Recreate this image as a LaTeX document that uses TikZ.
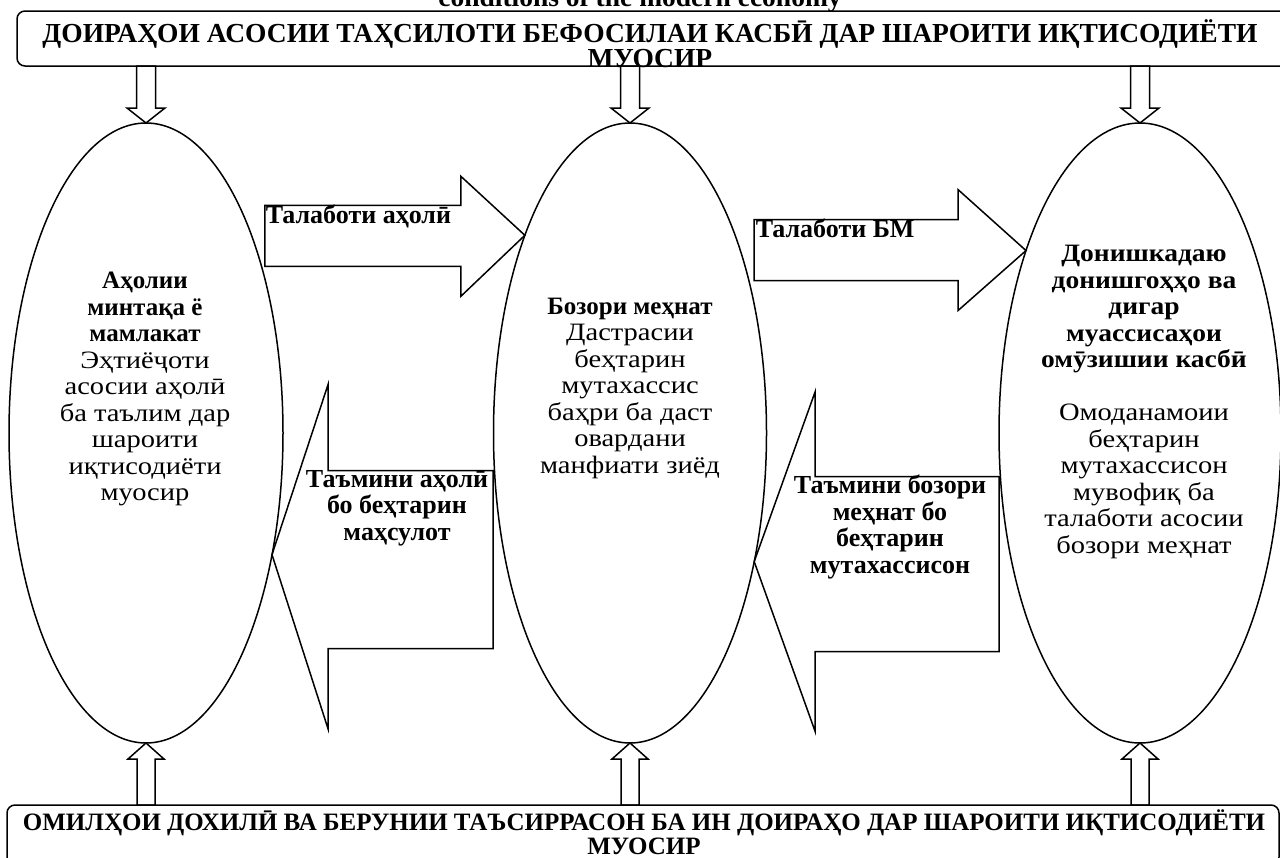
\documentclass[tikz,border=0pt]{standalone}
\usepackage{fontspec}
\setmainfont{Liberation Serif}
\newfontfamily\widefont{Liberation Serif}[FakeStretch=1.14]
\newfontfamily\midfont{Liberation Serif}[FakeStretch=1.1]
\newcommand\ovalhead[1]{{\rmfamily\bfseries #1}}
\newcommand\instHead[1]{{\midfont\bfseries #1}}
\usetikzlibrary{shapes.geometric}
\begin{document}
\begin{tikzpicture}[x=1pt, y=-1pt, line width=1.5pt,
    oval/.style={draw, ellipse, inner sep=0pt, outer sep=0pt, minimum height=620pt},
    frame/.style={draw, rounded corners=8pt, inner sep=0pt, outer sep=0pt, anchor=north west},
    plain/.style={font=\widefont\fontsize{25}{26.5}\selectfont, align=center, inner sep=0pt},
    lbl/.style={font=\bfseries\fontsize{26}{26.5}\selectfont, align=center, inner sep=0pt},
    boxtxt/.style={font=\bfseries\fontsize{27.5}{25}\selectfont, align=center, inner sep=0pt}]
\useasboundingbox (0,0) rectangle (1280,857);
\fill[white] (0,0) rectangle (1280,857);

\node[boxtxt, anchor=base] (title) at (640,6) {conditions of the modern economy};
\node[frame, minimum width=1290pt, minimum height=55pt] (topbox) at (17,11) {};
\node[boxtxt] (topTxt) at (650,44) {ДОИРАҲОИ АСОСИИ ТАҲСИЛОТИ БЕФОСИЛАИ КАСБӢ ДАР ШАРОИТИ ИҚТИСОДИЁТИ\\МУОСИР};
\node[frame, minimum width=1272pt, minimum height=60pt] (botbox) at (7,805) {};
\node[boxtxt, font=\bfseries\fontsize{25}{23.5}\selectfont] (botTxt) at (644,832) {ОМИЛҲОИ ДОХИЛӢ ВА БЕРУНИИ ТАЪСИРРАСОН БА ИН ДОИРАҲО ДАР ШАРОИТИ ИҚТИСОДИЁТИ\\МУОСИР};

\node[oval, minimum width=274pt] (pop) at (146,433) {};
\node[oval, minimum width=273pt] (market) at (630,433) {};
\node[oval, minimum width=282pt] (inst) at (1140,433) {};

\node[plain] (popTxt) at (145,389) {\ovalhead{Аҳолии}\\\ovalhead{минтақа ё}\\\ovalhead{мамлакат}\\Эҳтиёҷоти\\асосии аҳолӣ\\ба таълим дар\\шароити\\иқтисодиёти\\муосир};
\node[plain] (marketTxt) at (630,388) {\ovalhead{Бозори меҳнат}\\Дастрасии\\беҳтарин\\мутахассис\\баҳри ба даст\\овардани\\манфиати зиёд};
\node[plain] (instTxt) at (1144,402) {\instHead{Донишкадаю}\\\instHead{донишгоҳҳо ва}\\\instHead{дигар}\\\instHead{муассисаҳои}\\\instHead{омӯзишии касбӣ}\\[26.5pt]Омоданамоии\\беҳтарин\\мутахассисон\\мувофиқ ба\\талаботи асосии\\бозори меҳнат};

\draw (pop.north) -- ++(-19,-15) -- ++(9.5,0) -- ++(0,-42) -- ++(19,0) -- ++(0,42) -- ++(9.5,0) -- cycle;
\draw (market.north) -- ++(-19,-15) -- ++(9.5,0) -- ++(0,-42) -- ++(19,0) -- ++(0,42) -- ++(9.5,0) -- cycle;
\draw (inst.north) -- ++(-19,-15) -- ++(9.5,0) -- ++(0,-42) -- ++(19,0) -- ++(0,42) -- ++(9.5,0) -- cycle;
\draw (pop.south) -- ++(-18,16) -- ++(9,0) -- ++(0,46) -- ++(18,0) -- ++(0,-46) -- ++(9,0) -- cycle;
\draw (market.south) -- ++(-18,16) -- ++(9,0) -- ++(0,46) -- ++(18,0) -- ++(0,-46) -- ++(9,0) -- cycle;
\draw (inst.south) -- ++(-18,16) -- ++(9,0) -- ++(0,46) -- ++(18,0) -- ++(0,-46) -- ++(9,0) -- cycle;

\draw (market.118) -- ++(-64,-59) -- ++(0,29) -- ++(-196,0) -- ++(0,61) -- ++(196,0) -- ++(0,30) -- cycle;
\draw (inst.122) -- ++(-68,-61) -- ++(0,30) -- ++(-204,0) -- ++(0,61) -- ++(204,0) -- ++(0,30) -- cycle;
\draw (pop.-44) -- ++(56,-170) -- ++(0,86) -- ++(165,0) -- ++(0,178) -- ++(-165,0) -- ++(0,80) -- cycle;
\draw (market.-46) -- ++(61,-170) -- ++(0,85) -- ++(184,0) -- ++(0,175) -- ++(-184,0) -- ++(0,80) -- cycle;

\node[lbl, anchor=base west] (needPop) at (265,223) {Талаботи аҳолӣ};
\node[lbl, anchor=base west] (needLM) at (755,237) {Талаботи БМ};
\node[lbl] (supplyPop) at (397,508) {Таъмини аҳолӣ\\бо беҳтарин\\маҳсулот};
\node[lbl] (supplyLM) at (890,527) {Таъмини бозори\\меҳнат бо\\беҳтарин\\мутахассисон};
\end{tikzpicture}
\end{document}
